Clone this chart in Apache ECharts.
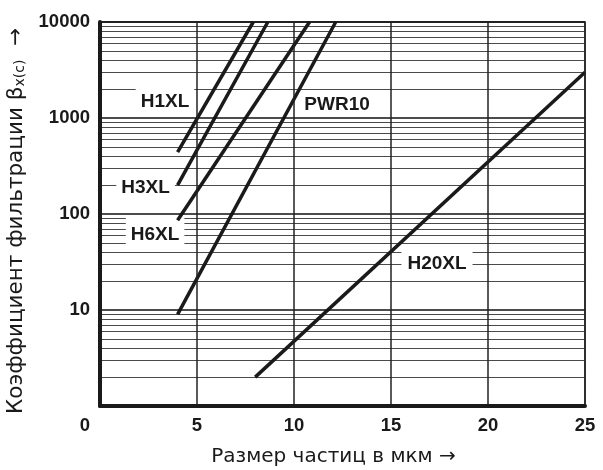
<!DOCTYPE html>
<html>
<head>
<meta charset="utf-8">
<script src="https://cdn.jsdelivr.net/npm/echarts@6/dist/echarts.min.js"></script>
<style>
html,body{margin:0;padding:0;background:#fff;}
#chart{width:603px;height:470px;}
</style>
</head>
<body>
<div id="chart"></div>
<script>
// ---- data ----
const seriesNames = ['H1XL', 'H3XL', 'H6XL', 'PWR10', 'H20XL'];
// [particle size µm, beta ratio] endpoints of each straight (log-scale) line
const h1xl  = [[4, 440], [7.9, 10000]];
const h3xl  = [[4, 200], [8.65, 10000]];
const h6xl  = [[4, 86], [10.8, 10000]];
const pwr10 = [[4, 9], [12.15, 10000]];
const h20xl = [[8, 2], [25, 3000]];
const seriesData = [h1xl, h3xl, h6xl, pwr10, h20xl];
// label anchor points (data units) for the curve names
const labelPoints = [[3.35, 1490], [2.35, 189], [2.84, 61], [12.22, 1384], [17.37, 30.5]];
const xTicks = [0, 5, 10, 15, 20, 25];
const yTicks = [10, 100, 1000, 10000];
const decades = [1, 10, 100, 1000];
const minorMultipliers = [2, 3, 4, 5, 6, 7, 8, 9];

const minorValues = [];
decades.forEach(d => minorMultipliers.forEach(m => minorValues.push(m * d)));

// white box paddings behind each curve name
const labelPads = [[8, 5, 7, 5], [8, 5, 7, 5], [8, 5, 7, 5], [3, 5, 3, 5], [8, 6, 7, 6]];

const ink = '#1a1a1a';
const fontMain = '"DejaVu Sans", sans-serif';
const fontBold = '"Liberation Sans", Arial, sans-serif';

const chart = echarts.init(document.getElementById('chart'), null, {renderer: 'canvas'});

const series = seriesNames.map((name, i) => ({
  name: name,
  type: 'line',
  data: seriesData[i],
  symbol: 'none',
  z: 3,
  clip: true,
  animation: false,
  lineStyle: {color: ink, width: 3.5, cap: 'butt'}
}));

// helper series carrying the minor log grid lines and the name labels
series.push({
  name: 'grid',
  type: 'line',
  data: [],
  symbol: 'none',
  animation: false,
  markLine: {
    z: 1,
    silent: true,
    animation: false,
    symbol: ['none', 'none'],
    label: {show: false},
    lineStyle: {type: 'solid', color: '#4a4a4a', width: 1.2},
    data: minorValues.map(v => ({yAxis: v}))
  },
  markPoint: {
    z: 2,
    silent: true,
    animation: false,
    symbol: 'rect',
    symbolSize: 0,
    data: labelPoints.map((p, i) => ({
      coord: p,
      label: {
        show: true,
        position: 'inside',
        formatter: seriesNames[i],
        fontFamily: fontBold,
        fontWeight: 'bold',
        fontSize: 19,
        color: ink,
        backgroundColor: '#fff',
        padding: labelPads[i]
      }
    }))
  }
});

const option = {
  animation: false,
  backgroundColor: '#fff',
  grid: {
    left: 100, right: 18, top: 22, bottom: 64,
    outerBoundsMode: 'none',
    containLabel: false,
    show: true, borderColor: '#222', borderWidth: 1.5, backgroundColor: 'transparent'
  },
  xAxis: {
    type: 'value',
    min: 0, max: 25, interval: 5,
    z: 5,
    name: 'Размер частиц в мкм →',
    nameLocation: 'middle',
    nameGap: 41,
    nameTextStyle: {fontFamily: fontMain, fontSize: 20, color: ink, padding: [0, 18, 0, 0]},
    axisLine: {show: true, onZero: false, lineStyle: {color: ink, width: 4}},
    axisTick: {show: false},
    splitLine: {show: true, lineStyle: {color: '#222', width: 1.5}},
    axisLabel: {
      margin: 10,
      fontFamily: fontBold, fontWeight: 'bold', fontSize: 18.5, color: ink,
      formatter: v => (xTicks.indexOf(v) < 0 ? '' : (v === 0 ? '{z|0}' : String(v))),
      rich: {z: {fontFamily: fontBold, fontWeight: 'bold', fontSize: 18.5, color: ink, padding: [0, 30, 0, 0]}}
    }
  },
  yAxis: {
    type: 'log',
    logBase: 10,
    min: 1, max: 10000,
    splitNumber: 4,
    z: 5,
    name: 'Коэффициент фильтрации {b|β}{s|x(c)}  →',
    nameLocation: 'middle',
    nameRotate: 90,
    nameGap: 70,
    nameTextStyle: {
      fontFamily: fontMain, fontSize: 21.5, color: ink, padding: [0, 14, 0, 0],
      rich: {
        b: {fontFamily: fontMain, fontSize: 21.5, color: ink},
        s: {fontFamily: fontMain, fontSize: 14, color: ink, padding: [9, 0, 0, 0]}
      }
    },
    axisLine: {show: true, lineStyle: {color: ink, width: 4}},
    axisTick: {show: false},
    splitLine: {show: true, lineStyle: {color: '#111', width: 1.5}},
    axisLabel: {
      margin: 10,
      fontFamily: fontBold, fontWeight: 'bold', fontSize: 18.5, color: ink,
      formatter: v => (yTicks.indexOf(Math.round(v)) < 0 ? '' : String(Math.round(v)))
    }
  },
  series: series
};

chart.setOption(option);
</script>
</body>
</html>
